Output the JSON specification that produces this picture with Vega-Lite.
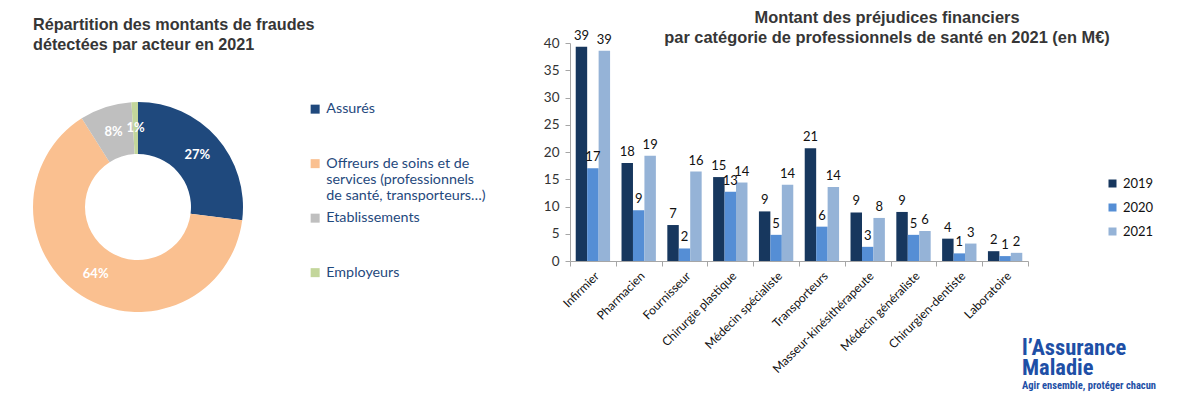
{
  "$schema": "https://vega.github.io/schema/vega-lite/v6.json",
  "background": "white",
  "padding": {"left": 33, "top": 10, "right": 5, "bottom": 2},
  "config": {"view": {"stroke": null}, "font": "Lato"},
  "bounds": "flush",
  "spacing": 327,
  "title": {
    "text": ["l’Assurance", "Maladie"],
    "subtitle": "Agir ensemble, protéger chacun",
    "orient": "bottom",
    "anchor": "end",
    "align": "left",
    "dx": -132,
    "offset": -38,
    "font": "Liberation Sans Narrow, Roboto Condensed, Roboto",
    "fontSize": 22.5,
    "fontWeight": "bold",
    "lineHeight": 20.5,
    "color": "#1E4FA6",
    "subtitleFont": "Liberation Sans Narrow, Roboto Condensed, Roboto",
    "subtitleFontSize": 10.5,
    "subtitleFontWeight": "bold",
    "subtitleColor": "#1E4FA6",
    "subtitlePadding": 1
  },
  "resolve": {"scale": {"color": "independent"}, "legend": {"color": "independent"}},
  "hconcat": [
    {
      "width": 210,
      "height": 328,
      "title": {
        "text": ["Répartition des montants de fraudes", "détectées par acteur en 2021"],
        "anchor": "start",
        "font": "Liberation Sans",
        "fontSize": 16.2,
        "fontWeight": "bold",
        "color": "#363636",
        "lineHeight": 20,
        "offset": -10
      },
      "data": {
        "values": [
          {"acteur": "Assurés", "pct": 27, "ordre": 1, "lbl": "27%"},
          {"acteur": "Offreurs de soins et de services (professionnels de santé, transporteurs…)", "pct": 64, "ordre": 2, "lbl": "64%"},
          {"acteur": "Etablissements", "pct": 8, "ordre": 3, "lbl": "8%"},
          {"acteur": "Employeurs", "pct": 1, "ordre": 4, "lbl": "1%"}
        ]
      },
      "encoding": {
        "theta": {"field": "pct", "type": "quantitative", "stack": true},
        "order": {"field": "ordre", "type": "quantitative"}
      },
      "layer": [
        {
          "mark": {"type": "arc", "innerRadius": 53, "outerRadius": 105},
          "encoding": {
            "color": {
              "field": "acteur",
              "type": "nominal",
              "sort": ["Assurés", "Offreurs de soins et de services (professionnels de santé, transporteurs…)", "Etablissements", "Employeurs"],
              "scale": {
                "domain": ["Assurés", "Offreurs de soins et de services (professionnels de santé, transporteurs…)", "Etablissements", "Employeurs"],
                "range": ["#1F497D", "#FAC090", "#BFBFBF", "#C3D69B"]
              },
              "legend": {
                "title": null,
                "orient": "none",
                "legendX": 275,
                "legendY": 59,
                "padding": 0,
                "symbolType": "square",
                "symbolSize": 81,
                "symbolStrokeWidth": 0,
                "labelFont": "Lato",
                "labelFontSize": 14.3,
                "labelColor": "#1F497D",
                "labelLimit": 300,
                "labelOffset": 4,
                "labelLineHeight": 16.5,
                "rowPadding": 6.5,
                "labelExpr": "datum.label == 'Assurés' ? ['Assurés', '\u00a0', '\u00a0'] : datum.label == 'Etablissements' ? ['Etablissements', '\u00a0', '\u00a0'] : datum.label == 'Employeurs' ? ['Employeurs', '\u00a0', '\u00a0'] : ['Offreurs de soins et de', 'services (professionnels', 'de santé, transporteurs…)']"
              }
            }
          }
        },
        {
          "mark": {"type": "text", "radius": 79, "color": "white", "fontWeight": "bold", "fontSize": 13, "font": "Lato"},
          "encoding": {"text": {"field": "lbl", "type": "nominal"}}
        }
      ]
    },
    {
      "width": 458,
      "height": 218,
      "title": {
        "text": ["Montant des préjudices financiers", "par catégorie de professionnels de santé en 2021 (en M€)"],
        "anchor": "middle",
        "frame": "group",
        "dx": 88,
        "font": "Liberation Sans",
        "fontSize": 16.4,
        "fontWeight": "bold",
        "color": "#363636",
        "lineHeight": 20,
        "offset": -17
      },
      "data": {
        "values": [
          {"cat": "Infirmier", "annee": "2019", "v": 39.3, "l": "39"},
          {"cat": "Infirmier", "annee": "2020", "v": 17.0, "l": "17"},
          {"cat": "Infirmier", "annee": "2021", "v": 38.6, "l": "39"},
          {"cat": "Pharmacien", "annee": "2019", "v": 18.0, "l": "18"},
          {"cat": "Pharmacien", "annee": "2020", "v": 9.3, "l": "9"},
          {"cat": "Pharmacien", "annee": "2021", "v": 19.3, "l": "19"},
          {"cat": "Fournisseur", "annee": "2019", "v": 6.6, "l": "7"},
          {"cat": "Fournisseur", "annee": "2020", "v": 2.3, "l": "2"},
          {"cat": "Fournisseur", "annee": "2021", "v": 16.4, "l": "16"},
          {"cat": "Chirurgie plastique", "annee": "2019", "v": 15.4, "l": "15"},
          {"cat": "Chirurgie plastique", "annee": "2020", "v": 12.7, "l": "13"},
          {"cat": "Chirurgie plastique", "annee": "2021", "v": 14.4, "l": "14"},
          {"cat": "Médecin spécialiste", "annee": "2019", "v": 9.1, "l": "9"},
          {"cat": "Médecin spécialiste", "annee": "2020", "v": 4.8, "l": "5"},
          {"cat": "Médecin spécialiste", "annee": "2021", "v": 14.0, "l": "14"},
          {"cat": "Transporteurs", "annee": "2019", "v": 20.7, "l": "21"},
          {"cat": "Transporteurs", "annee": "2020", "v": 6.3, "l": "6"},
          {"cat": "Transporteurs", "annee": "2021", "v": 13.6, "l": "14"},
          {"cat": "Masseur-kinésithérapeute", "annee": "2019", "v": 8.9, "l": "9"},
          {"cat": "Masseur-kinésithérapeute", "annee": "2020", "v": 2.6, "l": "3"},
          {"cat": "Masseur-kinésithérapeute", "annee": "2021", "v": 7.9, "l": "8"},
          {"cat": "Médecin généraliste", "annee": "2019", "v": 9.0, "l": "9"},
          {"cat": "Médecin généraliste", "annee": "2020", "v": 4.8, "l": "5"},
          {"cat": "Médecin généraliste", "annee": "2021", "v": 5.5, "l": "6"},
          {"cat": "Chirurgien-dentiste", "annee": "2019", "v": 4.1, "l": "4"},
          {"cat": "Chirurgien-dentiste", "annee": "2020", "v": 1.4, "l": "1"},
          {"cat": "Chirurgien-dentiste", "annee": "2021", "v": 3.2, "l": "3"},
          {"cat": "Laboratoire", "annee": "2019", "v": 1.8, "l": "2"},
          {"cat": "Laboratoire", "annee": "2020", "v": 0.9, "l": "1"},
          {"cat": "Laboratoire", "annee": "2021", "v": 1.5, "l": "2"}
        ]
      },
      "encoding": {
        "x": {
          "field": "cat",
          "type": "nominal",
          "sort": null,
          "scale": {"paddingInner": 0, "paddingOuter": 0},
          "axis": {
            "title": null,
            "labelAngle": -45,
            "labelFont": "Lato",
            "labelFontSize": 12,
            "labelColor": "#111111",
            "labelPadding": 4,
            "tickBand": "extent",
            "tickSize": 5,
            "tickColor": "#A6A6A6",
            "domainColor": "#A6A6A6",
            "labelLimit": 200
          }
        },
        "y": {
          "field": "v",
          "type": "quantitative",
          "scale": {"domain": [0, 40], "nice": false},
          "axis": {
            "title": null,
            "values": [0, 5, 10, 15, 20, 25, 30, 35, 40],
            "grid": false,
            "labelFont": "Lato",
            "labelFontSize": 13.5,
            "labelColor": "#333333",
            "labelPadding": 6,
            "tickSize": 5,
            "tickColor": "#A6A6A6",
            "domainColor": "#A6A6A6"
          }
        },
        "xOffset": {
          "field": "annee",
          "type": "nominal",
          "sort": ["2019", "2020", "2021"],
          "scale": {"paddingInner": 0, "paddingOuter": 0.5}
        }
      },
      "layer": [
        {
          "mark": {"type": "bar"},
          "encoding": {
            "color": {
              "field": "annee",
              "type": "nominal",
              "scale": {"domain": ["2019", "2020", "2021"], "range": ["#17375E", "#558ED5", "#95B3D7"]},
              "legend": {
                "title": null,
                "orient": "none",
                "legendX": 536,
                "legendY": 134,
                "padding": 0,
                "symbolType": "square",
                "symbolSize": 64,
                "symbolStrokeWidth": 0,
                "labelFont": "Lato",
                "labelFontSize": 13,
                "labelColor": "#111111",
                "labelOffset": 4,
                "rowPadding": 10
              }
            }
          }
        },
        {
          "mark": {"type": "text", "baseline": "bottom", "dy": -4, "fontSize": 13, "font": "Lato", "color": "#111111"},
          "encoding": {"text": {"field": "l", "type": "nominal"}}
        }
      ]
    }
  ]
}
